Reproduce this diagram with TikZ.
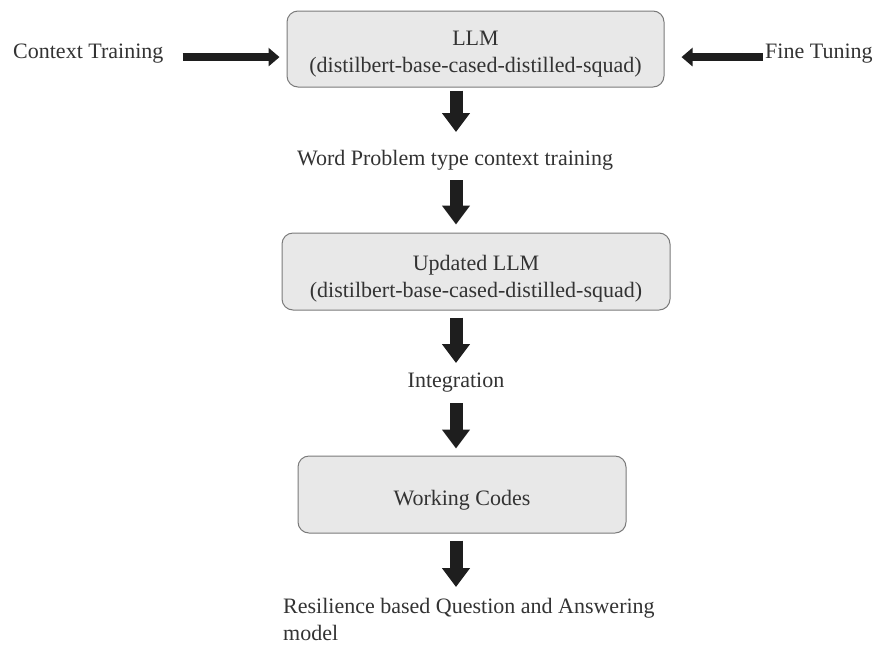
\documentclass[tikz,border=0pt]{standalone}
\usepackage{fontspec}
\setmainfont{Liberation Serif}
\usetikzlibrary{arrows.meta}
\definecolor{boxfill}{HTML}{E8E8E8}
\definecolor{boxline}{HTML}{7A7A7A}
\definecolor{txt}{HTML}{333333}
\definecolor{arr}{HTML}{1E1E1E}
\tikzset{
  every node/.style={font=\fontsize{22}{27}\selectfont, text=txt},
  procbox/.style={draw=boxline, fill=boxfill, line width=1pt, rounded corners=11pt,
    align=center, inner sep=0pt},
  lbl/.style={inner sep=0pt},
  varrow/.style={draw=arr, line width=13pt, -{Triangle[length=19pt,width=27pt]}},
  harrow/.style={draw=arr, line width=8pt, -{Triangle[length=11pt,width=18pt]}}
}
\begin{document}
\begin{tikzpicture}[x=1pt,y=-1pt]
\useasboundingbox[fill=white] (0,0) rectangle (877,646);
% boxes
\node[procbox, minimum width=377pt, minimum height=76pt] (b1) at (475.5,49)
  {\rule{0pt}{25pt}LLM\\(distilbert-base-cased-distilled-squad)};
\node[procbox, minimum width=388pt, minimum height=77pt] (b2) at (476,271.5)
  {\rule{0pt}{29pt}Updated LLM\\(distilbert-base-cased-distilled-squad)};
\node[procbox, minimum width=328pt, minimum height=77pt] (b3) at (462,494.5)
  {\rule{0pt}{27pt}Working Codes};
% labels
\node[lbl, anchor=base west] (ct) at (13,58) {Context Training};
\node[lbl, anchor=base west] (ft) at (765,58) {Fine Tuning};
\node[lbl, anchor=base] (w) at (455,165) {Word Problem type context training};
\node[lbl, anchor=base] (integ) at (456,387) {Integration};
\node[lbl, anchor=north west, align=left] (res) at (283,598)
  {Resilience based Question and Answering\\model};
% horizontal arrows
\draw[harrow, shorten <=19pt, shorten >=7pt] ([yshift=-4pt]ct.east) -- ([yshift=-4pt]ct.east -| b1.west);
\draw[harrow, shorten <=2pt, shorten >=17pt] ([yshift=-4pt]ft.west) -- ([yshift=-4pt]ft.west -| b1.east);
% vertical arrows
\draw[varrow] ([yshift=-3pt]b1.south -| integ.base) -- ([yshift=33pt]w.base -| integ.base);
\draw[varrow, shorten >=8pt] ([yshift=-15pt]w.base -| integ.base) -- (b2.north -| integ.base);
\draw[varrow] ([yshift=-7pt]b2.south -| integ.base) -- ([yshift=24pt]integ.base);
\draw[varrow, shorten >=7pt] ([yshift=-16pt]integ.base) -- (b3.north -| integ.base);
\draw[varrow] ([yshift=-7pt]b3.south -| integ.base) -- ([yshift=11pt]res.north -| integ.base);
\end{tikzpicture}
\end{document}
